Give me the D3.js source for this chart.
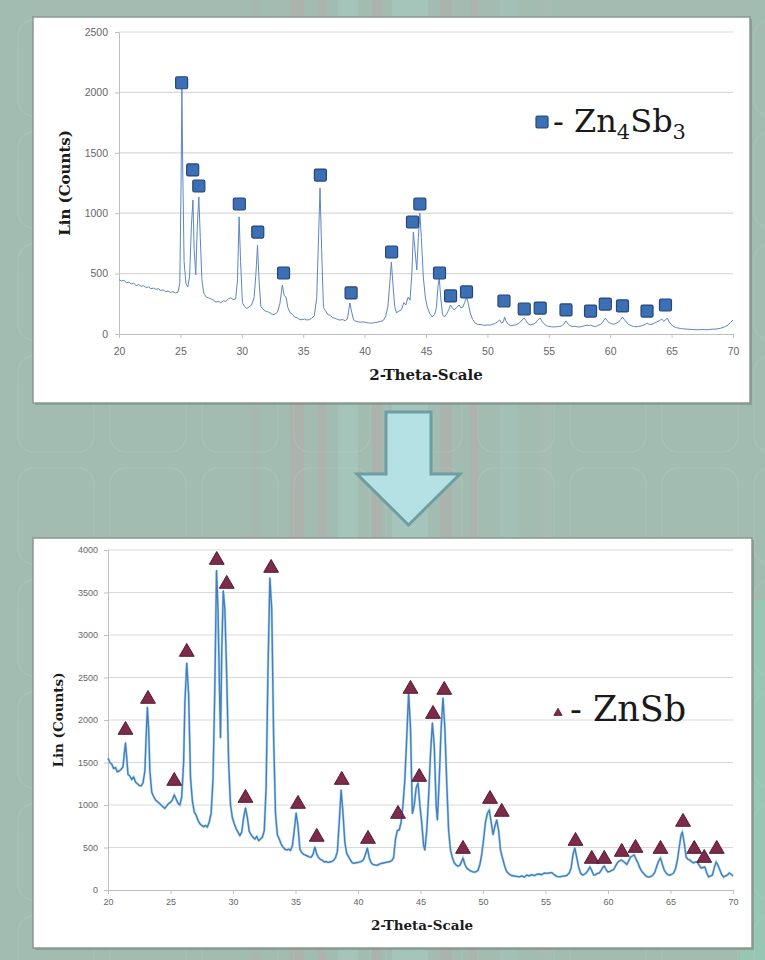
<!DOCTYPE html>
<html>
<head>
<meta charset="UTF-8">
<script src="https://d3js.org/d3.v7.min.js"></script>
<style>
  body { margin: 0; background: #a3bdb3; }
  svg { display: block; }
  .tick text { font-family: "Liberation Sans", Arial, sans-serif; fill: #666666; }
  .axis-title { font-family: "DejaVu Serif", serif; font-weight: bold; fill: #1a1a1a; }
  .legend { font-family: "DejaVu Serif", serif; fill: #1a1a1a; }
</style>
</head>
<body>
<svg width="765" height="960"></svg>
<script>

// 2-theta (deg), counts : Zn4Sb3 scan (top)
const zn4sb3Scan = [
  [20.0,450],[20.2,440],[20.4,445],[20.6,425],[20.8,430],[21.0,415],[21.2,420],[21.4,400],[21.6,410],[21.8,395],
  [22.0,400],[22.2,385],[22.4,390],[22.6,375],[22.8,380],[23.0,370],[23.2,375],[23.4,360],[23.6,365],[23.8,350],
  [24.0,355],[24.2,345],[24.4,350],[24.6,340],[24.8,345],[24.95,420],[25.05,1200],[25.12,2030],[25.2,1300],[25.3,600],
  [25.45,420],[25.6,390],[25.75,480],[25.9,900],[26.02,1110],[26.12,700],[26.25,490],[26.38,900],[26.5,1135],[26.62,800],
  [26.75,450],[26.9,340],[27.1,305],[27.3,300],[27.5,290],[27.7,280],[27.9,265],[28.1,270],[28.3,260],[28.5,275],
  [28.7,270],[28.9,290],[29.1,300],[29.3,285],[29.5,290],[29.65,450],[29.78,970],[29.9,600],[30.05,260],[30.2,230],
  [30.4,210],[30.6,225],[30.8,240],[31.0,300],[31.15,500],[31.28,737],[31.4,450],[31.55,230],[31.7,210],[31.9,190],
  [32.1,185],[32.3,175],[32.5,160],[32.7,165],[32.9,180],[33.1,250],[33.3,405],[33.45,320],[33.6,306],[33.75,220],
  [33.9,180],[34.1,165],[34.3,140],[34.5,135],[34.7,120],[34.9,118],[35.1,125],[35.3,115],[35.5,120],[35.7,130],
  [35.9,150],[36.1,300],[36.25,800],[36.37,1208],[36.5,700],[36.65,220],[36.8,195],[37.0,160],[37.2,155],[37.4,135],
  [37.6,130],[37.8,120],[38.0,115],[38.2,120],[38.4,110],[38.6,125],[38.8,257],[38.95,180],[39.1,118],[39.3,105],
  [39.5,100],[39.7,98],[39.9,100],[40.1,95],[40.3,92],[40.5,90],[40.7,92],[40.9,95],[41.1,100],[41.3,105],
  [41.5,110],[41.7,140],[41.9,230],[42.05,420],[42.18,596],[42.3,420],[42.45,230],[42.6,175],[42.8,190],[43.0,200],
  [43.2,260],[43.35,240],[43.55,306],[43.7,280],[43.85,500],[43.97,845],[44.1,700],[44.25,530],[44.38,800],[44.5,1000],
  [44.62,800],[44.78,472],[44.95,300],[45.1,224],[45.3,170],[45.5,141],[45.7,160],[45.85,220],[45.98,400],[46.08,464],
  [46.2,300],[46.35,160],[46.5,141],[46.7,170],[46.85,200],[47.0,240],[47.15,215],[47.3,199],[47.5,220],[47.7,240],
  [47.85,215],[48.0,224],[48.15,260],[48.3,306],[48.45,250],[48.6,174],[48.8,120],[49.0,91],[49.2,80],[49.4,78],
  [49.6,75],[49.8,72],[50.0,75],[50.2,73],[50.4,80],[50.6,85],[50.8,100],[51.0,116],[51.15,90],[51.3,100],
  [51.4,141],[51.5,110],[51.7,80],[51.9,70],[52.1,72],[52.3,75],[52.5,85],[52.7,100],[52.9,125],[53.0,132],
  [53.15,110],[53.3,85],[53.5,75],[53.7,80],[53.9,90],[54.1,115],[54.3,132],[54.45,105],[54.6,85],[54.8,70],
  [55.0,62],[55.2,60],[55.4,58],[55.6,60],[55.8,62],[56.0,65],[56.2,80],[56.4,108],[56.55,85],[56.7,70],
  [56.9,62],[57.1,65],[57.3,60],[57.5,58],[57.7,62],[57.9,68],[58.1,72],[58.3,70],[58.4,75],[58.6,65],
  [58.8,62],[59.0,70],[59.2,80],[59.4,100],[59.6,132],[59.75,110],[59.9,95],[60.1,85],[60.3,80],[60.5,90],
  [60.7,100],[60.85,120],[61.0,141],[61.15,120],[61.3,100],[61.5,80],[61.7,70],[61.9,62],[62.1,60],[62.3,62],
  [62.5,66],[62.7,72],[62.9,82],[63.0,91],[63.2,78],[63.4,80],[63.6,90],[63.8,100],[64.0,110],[64.2,124],
  [64.35,105],[64.5,115],[64.65,132],[64.8,100],[65.0,75],[65.2,60],[65.4,52],[65.6,48],[65.8,45],[66.0,42],
  [66.3,40],[66.6,38],[66.9,36],[67.2,35],[67.5,38],[67.8,35],[68.1,38],[68.4,40],[68.7,42],[69.0,48],
  [69.3,58],[69.6,75],[69.8,95],[70.0,116]
];

// marked Zn4Sb3 reflections: 2-theta, counts at marker
const zn4sb3Peaks = [
  [25.1,2080],[26.0,1358],[26.5,1225],[29.8,1076],[31.3,844],[33.4,505],[36.4,1316],[38.9,340],
  [42.2,679],[43.9,927],[44.5,1076],[46.1,505],[47.0,315],[48.3,348],[51.35,273],[53.0,207],
  [54.3,215],[56.4,199],[58.4,190],[59.6,248],[61.0,232],[63.0,190],[64.5,240]
];

// 2-theta (deg), counts : ZnSb scan (bottom)
const znsbScan = [
  [20.0,1550],[20.15,1500],[20.3,1480],[20.45,1430],[20.6,1440],[20.75,1390],[20.9,1400],[21.05,1420],[21.2,1450],[21.3,1600],
  [21.4,1730],[21.5,1550],[21.6,1360],[21.75,1340],[21.9,1300],[22.05,1330],[22.2,1270],[22.35,1250],[22.5,1230],[22.65,1225],
  [22.8,1260],[22.95,1400],[23.05,1800],[23.15,2150],[23.25,1900],[23.35,1400],[23.5,1150],[23.65,1100],[23.8,1060],[23.95,1040],
  [24.1,1020],[24.25,1000],[24.4,980],[24.55,960],[24.7,990],[24.85,1020],[25.0,1030],[25.15,1060],[25.3,1118],[25.45,1070],
  [25.6,1020],[25.75,1000],[25.9,1100],[26.05,1500],[26.15,2200],[26.3,2670],[26.45,2300],[26.6,1320],[26.75,1050],[26.9,920],
  [27.05,880],[27.2,820],[27.35,780],[27.5,760],[27.65,745],[27.8,760],[27.95,740],[28.1,800],[28.25,900],[28.4,1300],
  [28.55,2400],[28.68,3760],[28.8,3300],[28.9,2500],[29.0,1790],[29.1,2800],[29.22,3520],[29.35,3300],[29.5,2500],[29.65,1500],
  [29.8,1000],[29.95,850],[30.1,780],[30.25,720],[30.4,680],[30.55,640],[30.7,680],[30.85,850],[31.0,965],[31.15,850],
  [31.3,690],[31.45,650],[31.6,620],[31.75,600],[31.9,630],[32.05,580],[32.2,600],[32.35,620],[32.5,700],[32.65,1200],
  [32.8,2600],[32.95,3670],[33.1,3300],[33.25,1800],[33.4,900],[33.55,650],[33.7,600],[33.85,540],[34.0,505],[34.15,480],
  [34.3,470],[34.45,480],[34.6,465],[34.75,520],[34.9,700],[35.05,906],[35.2,750],[35.35,480],[35.5,440],[35.65,420],
  [35.8,410],[35.95,400],[36.1,390],[36.25,385],[36.4,420],[36.55,506],[36.7,420],[36.85,380],[37.0,360],[37.15,350],
  [37.3,330],[37.45,335],[37.6,325],[37.75,330],[37.9,335],[38.05,350],[38.2,380],[38.35,450],[38.5,800],[38.65,1176],
  [38.8,900],[38.95,553],[39.1,430],[39.25,390],[39.4,350],[39.55,320],[39.7,315],[39.85,320],[40.0,325],[40.15,330],
  [40.3,340],[40.45,360],[40.6,420],[40.75,494],[40.9,380],[41.05,320],[41.2,300],[41.35,295],[41.5,290],[41.65,300],
  [41.8,310],[41.95,315],[42.1,320],[42.25,325],[42.4,330],[42.55,335],[42.7,345],[42.85,380],[43.0,600],[43.15,700],
  [43.3,706],[43.45,800],[43.6,1000],[43.75,1300],[43.9,1800],[44.05,2318],[44.2,1900],[44.35,900],[44.5,1000],[44.65,1200],
  [44.8,1259],[44.95,1000],[45.1,788],[45.25,520],[45.35,470],[45.5,700],[45.65,1100],[45.8,1600],[45.95,1965],[46.1,1700],
  [46.25,1000],[46.35,824],[46.5,1300],[46.65,1900],[46.8,2259],[46.95,1900],[47.1,1259],[47.25,700],[47.4,470],[47.55,380],
  [47.7,320],[47.85,294],[48.0,280],[48.15,290],[48.3,340],[48.4,376],[48.55,300],[48.7,259],[48.85,240],[49.0,225],
  [49.15,215],[49.3,210],[49.45,215],[49.6,230],[49.75,300],[49.9,420],[50.05,600],[50.2,800],[50.35,900],[50.5,941],
  [50.65,800],[50.8,650],[50.95,750],[51.1,824],[51.25,700],[51.4,470],[51.55,380],[51.7,300],[51.85,230],[52.0,200],
  [52.15,180],[52.3,170],[52.5,165],[52.7,160],[52.9,155],[53.1,165],[53.3,150],[53.5,176],[53.7,165],[53.9,180],
  [54.1,170],[54.3,185],[54.5,188],[54.7,180],[54.9,200],[55.1,195],[55.3,200],[55.5,205],[55.7,180],[55.9,160],
  [56.1,155],[56.3,160],[56.5,165],[56.7,170],[56.9,200],[57.05,260],[57.2,420],[57.35,494],[57.5,380],[57.65,271],
  [57.8,200],[57.95,176],[58.1,185],[58.25,200],[58.4,230],[58.55,271],[58.7,230],[58.85,176],[59.0,180],[59.15,195],
  [59.3,200],[59.45,230],[59.6,270],[59.7,282],[59.85,240],[60.0,212],[60.15,220],[60.3,230],[60.45,240],[60.6,280],
  [60.75,320],[60.9,340],[61.05,353],[61.2,340],[61.35,320],[61.5,300],[61.65,340],[61.8,388],[61.95,400],[62.1,412],
  [62.25,360],[62.4,318],[62.55,260],[62.7,220],[62.85,195],[63.0,170],[63.15,155],[63.3,153],[63.45,160],[63.6,176],
  [63.75,210],[63.9,280],[64.05,340],[64.2,376],[64.35,300],[64.5,235],[64.65,200],[64.8,180],[64.95,176],[65.1,185],
  [65.25,200],[65.4,250],[65.55,350],[65.7,506],[65.85,650],[65.95,682],[66.1,550],[66.25,388],[66.4,360],[66.55,353],
  [66.7,330],[66.85,318],[67.0,330],[67.15,329],[67.3,290],[67.45,259],[67.6,265],[67.75,271],[67.9,200],[68.05,153],
  [68.2,165],[68.35,176],[68.5,260],[68.65,329],[68.8,290],[68.95,235],[69.1,180],[69.25,153],[69.4,165],[69.55,176],
  [69.7,200],[69.85,185],[70.0,165]
];

// marked ZnSb reflections
const znsbPeaks = [
  [21.4,1882],[23.2,2247],[25.3,1282],[26.3,2800],[28.7,3882],[29.5,3600],[31.0,1082],[33.05,3788],
  [35.2,1012],[36.7,624],[38.7,1294],[40.8,600],[43.2,894],[44.2,2365],[44.9,1329],[46.0,2070],
  [46.9,2353],[48.4,482],[50.56,1070],[51.5,918],[57.4,576],[58.7,365],[59.7,365],[61.1,447],
  [62.2,494],[64.2,482],[66.0,800],[66.9,482],[67.7,376],[68.7,482]
];

const thetaTicks = [20, 25, 30, 35, 40, 45, 50, 55, 60, 65, 70];
const topCountTicks = [0, 500, 1000, 1500, 2000, 2500];
const bottomCountTicks = [0, 500, 1000, 1500, 2000, 2500, 3000, 3500, 4000];

const xTitle = "2-Theta-Scale";
const yTitle = "Lin (Counts)";

const svg = d3.select("svg");

// ---- slide background ----
const bg = svg.append("g");
bg.append("rect").attr("width", 765).attr("height", 960).attr("fill", "#a3bcb2");
// vertical streaks
[[290, 14, "#b7a7a4", 0.45], [318, 8, "#b9a3a2", 0.4], [338, 20, "#a9d3c6", 0.4], [372, 10, "#b8a6a3", 0.4],
 [392, 36, "#aad6cb", 0.35], [440, 12, "#b5a5a2", 0.4], [470, 9, "#bba7a4", 0.4], [500, 18, "#a2c9bd", 0.35],
 [250, 10, "#b0b0aa", 0.3], [540, 12, "#aebfb6", 0.35]].forEach(s => {
  bg.append("rect").attr("x", s[0]).attr("y", 0).attr("width", s[1]).attr("height", 960)
    .attr("fill", s[2]).attr("opacity", s[3]);
});
bg.append("rect").attr("x", 740).attr("y", 600).attr("width", 25).attr("height", 360)
  .attr("fill", "#8fcdb4").attr("opacity", 0.6);
// faint rounded tiles
for (let c = 0; c < 9; c++) {
  for (let r = 0; r < 9; r++) {
    bg.append("rect").attr("x", 18 + c * 92).attr("y", 20 + r * 112)
      .attr("width", 76).attr("height", 96).attr("rx", 16)
      .attr("fill", "none").attr("stroke", "#bfd3ca").attr("stroke-width", 1.5).attr("opacity", 0.25);
  }
}

// ---- arrow between the two charts ----
svg.append("path")
  .attr("d", "M386,412 L431,412 L431,474 L460,474 L408.5,525 L357,474 L386,474 Z")
  .attr("fill", "#b5e0e4").attr("stroke", "#6f9ea0").attr("stroke-width", 3)
  .attr("stroke-linejoin", "miter");

function drawPanel(o) {
  const g = svg.append("g");
  // card
  g.append("rect").attr("x", o.box[0] + 2).attr("y", o.box[1] + 2)
    .attr("width", o.box[2]).attr("height", o.box[3]).attr("fill", "#6f817b").attr("opacity", 0.5);
  g.append("rect").attr("x", o.box[0]).attr("y", o.box[1])
    .attr("width", o.box[2]).attr("height", o.box[3])
    .attr("fill", "#ffffff").attr("stroke", "#8a9893").attr("stroke-width", 1.5);

  const x = d3.scaleLinear().domain([20, 70]).range(o.xr);
  const y = d3.scaleLinear().domain([0, o.yTicks[o.yTicks.length - 1]]).range(o.yr);

  // gridlines
  g.append("g").selectAll("line").data(o.yTicks.slice(1)).join("line")
    .attr("x1", x(20)).attr("x2", x(70))
    .attr("y1", d => y(d)).attr("y2", d => y(d))
    .attr("stroke", "#d9d9d9").attr("stroke-width", 1.2);

  const yAxis = g.append("g").attr("transform", `translate(${x(20)},0)`)
    .call(d3.axisLeft(y).tickValues(o.yTicks).tickFormat(d3.format("d"))
      .tickSizeInner(4).tickSizeOuter(0).tickPadding(o.yPad));
  const xAxis = g.append("g").attr("transform", `translate(0,${y(0)})`)
    .call(d3.axisBottom(x).tickValues(thetaTicks).tickFormat(d3.format("d"))
      .tickSizeInner(4).tickSizeOuter(0).tickPadding(o.xPad));
  [yAxis, xAxis].forEach(a => {
    a.select(".domain").attr("stroke", "#bfbfbf");
    a.selectAll(".tick line").attr("stroke", "#bfbfbf");
    a.selectAll(".tick text").attr("font-size", o.tickFont);
  });

  // scan line
  const line = d3.line().x(d => x(d[0])).y(d => y(d[1]));
  if (o.glow) {
    g.append("path").datum(o.scan).attr("d", line)
      .attr("fill", "none").attr("stroke", "#9fdbe8").attr("stroke-width", 2.6).attr("opacity", 0.8);
  }
  g.append("path").datum(o.scan).attr("d", line)
    .attr("fill", "none").attr("stroke", o.lineColor).attr("stroke-width", o.lineWidth)
    .attr("stroke-linejoin", "round");

  // markers
  o.drawMarkers(g, x, y);

  // axis titles
  g.append("text").attr("class", "axis-title")
    .attr("x", o.xTitlePos[0]).attr("y", o.xTitlePos[1])
    .attr("text-anchor", "middle").attr("font-size", o.titleFont).text(xTitle);
  g.append("text").attr("class", "axis-title")
    .attr("transform", `translate(${o.yTitlePos[0]},${o.yTitlePos[1]}) rotate(-90)`)
    .attr("text-anchor", "middle").attr("font-size", o.titleFont).text(yTitle);
  return g;
}

// ---- top: Zn4Sb3 ----
const topPanel = drawPanel({
  box: [33, 17, 717, 386],
  xr: [119, 733], yr: [334, 32],
  yTicks: topCountTicks, tickFont: 10.5, yPad: 7, xPad: 10,
  scan: zn4sb3Scan, lineColor: "#5b86c2", lineWidth: 1, glow: false,
  titleFont: 15, xTitlePos: [426, 380], yTitlePos: [70, 183],
  drawMarkers: (g, x, y) => {
    g.append("g").selectAll("rect").data(zn4sb3Peaks).join("rect")
      .attr("x", d => x(d[0]) - 6).attr("y", d => y(d[1]) - 6)
      .attr("width", 12).attr("height", 12).attr("rx", 1.5)
      .attr("fill", "#3d6fb5").attr("stroke", "#25467a").attr("stroke-width", 1.2);
  }
});
topPanel.append("rect").attr("x", 536).attr("y", 116).attr("width", 12).attr("height", 12).attr("rx", 1.5)
  .attr("fill", "#3d6fb5").attr("stroke", "#25467a").attr("stroke-width", 1.2);
const tl = topPanel.append("text").attr("class", "legend").attr("x", 553).attr("y", 132).attr("font-size", 32);
tl.append("tspan").text("- Zn");
tl.append("tspan").attr("font-size", 21).attr("dy", 7).text("4");
tl.append("tspan").attr("dy", -7).text("Sb");
tl.append("tspan").attr("font-size", 21).attr("dy", 7).text("3");

// ---- bottom: ZnSb ----
const tri = d3.symbol(d3.symbolTriangle, 95);
const bottomPanel = drawPanel({
  box: [33, 538, 719, 410],
  xr: [108, 733], yr: [890, 550],
  yTicks: bottomCountTicks, tickFont: 9, yPad: 6, xPad: 5,
  scan: znsbScan, lineColor: "#4a7bbf", lineWidth: 1.4, glow: true,
  titleFont: 13.5, xTitlePos: [422, 930], yTitlePos: [63, 720],
  drawMarkers: (g, x, y) => {
    g.append("g").selectAll("path").data(znsbPeaks).join("path")
      .attr("d", tri)
      .attr("transform", d => `translate(${x(d[0])},${y(d[1])})`)
      .attr("fill", "#7c2b4a").attr("stroke", "#561a31").attr("stroke-width", 1);
  }
});
bottomPanel.append("path").attr("d", d3.symbol(d3.symbolTriangle, 30))
  .attr("transform", "translate(558,713)")
  .attr("fill", "#7c2b4a").attr("stroke", "#561a31").attr("stroke-width", 0.8);
bottomPanel.append("text").attr("class", "legend").attr("x", 570).attr("y", 721)
  .attr("font-size", 35).text("- ZnSb");

</script>
</body>
</html>
